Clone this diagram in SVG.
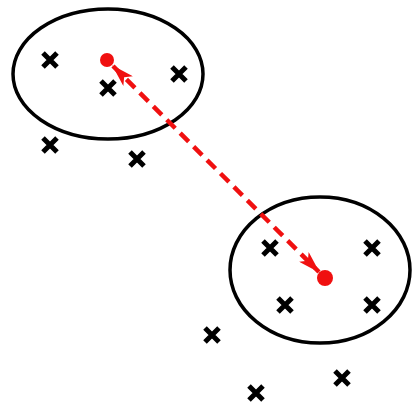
<svg xmlns="http://www.w3.org/2000/svg" width="413" height="408" viewBox="0 0 413 408">
<defs>
<style>
.cl{fill:none;stroke:#000;stroke-width:3.5}
.x{stroke:#000;stroke-width:5;stroke-linecap:butt;fill:none}
.c{fill:#f01010}
.conn{stroke:#f01010;stroke-width:4.5;stroke-dasharray:12 7;fill:none}
</style>
<path id="xm" d="M-7,-7L7,7M7,-7L-7,7"/>
<marker id="ah" viewBox="0 0 20 12" refX="19" refY="6" markerWidth="5" markerHeight="3" orient="auto-start-reverse" markerUnits="strokeWidth">
<path d="M0,0L20,6L0,12L5,6Z" fill="#f01010"/>
</marker>
</defs>
<rect width="413" height="408" fill="#fff"/>
<g id="cluster1">
<ellipse class="cl" cx="108" cy="74" rx="95" ry="65"/>
<use href="#xm" class="x" x="50" y="60"/>
<use href="#xm" class="x" x="108" y="88"/>
<use href="#xm" class="x" x="179" y="74"/>
</g>
<g id="cluster2">
<ellipse class="cl" cx="320" cy="270" rx="90" ry="73"/>
<use href="#xm" class="x" x="270" y="248"/>
<use href="#xm" class="x" x="372" y="248"/>
<use href="#xm" class="x" x="285" y="305"/>
<use href="#xm" class="x" x="372" y="305"/>
</g>
<g id="outliers">
<use href="#xm" class="x" x="50" y="145"/>
<use href="#xm" class="x" x="137" y="159"/>
<use href="#xm" class="x" x="212" y="335"/>
<use href="#xm" class="x" x="342" y="378"/>
<use href="#xm" class="x" x="256" y="393"/>
</g>
<g id="connectors">
<line class="conn" x1="113" y1="66" x2="319" y2="272" marker-start="url(#ah)" marker-end="url(#ah)"/>
</g>
<g id="centroid1"><circle class="c" cx="107" cy="60" r="7"/></g>
<g id="centroid2"><circle class="c" cx="325" cy="278" r="8"/></g>
</svg>
